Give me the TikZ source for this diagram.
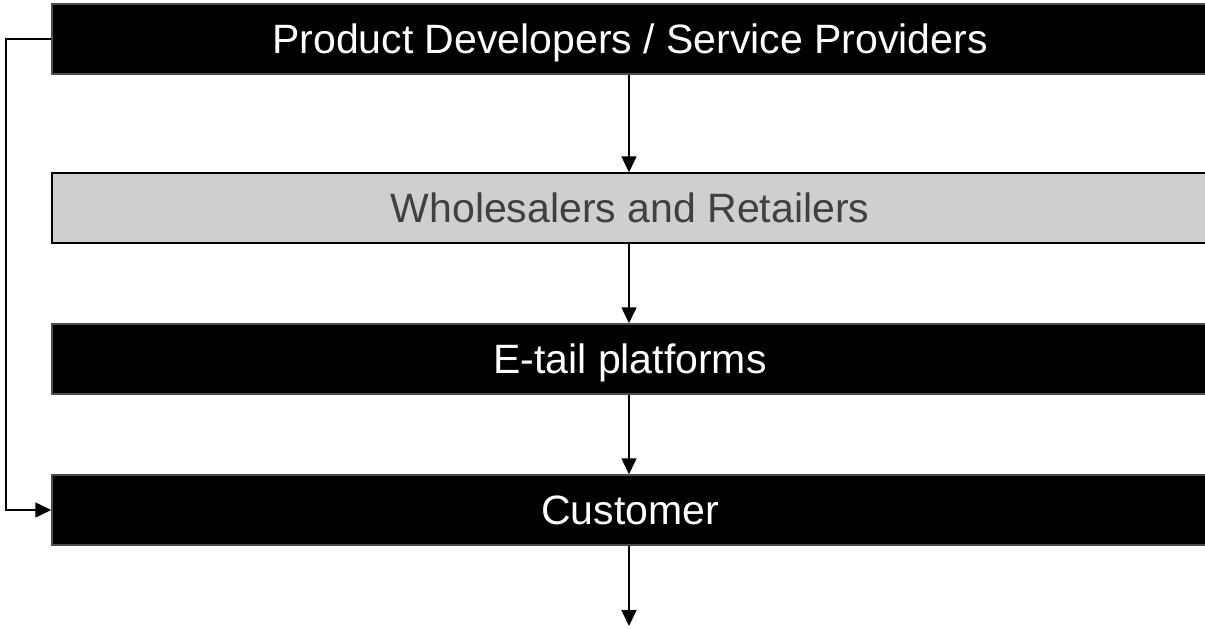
\documentclass[tikz,border=0pt]{standalone}
\usepackage{fontspec}
\setmainfont{Liberation Sans}
\usetikzlibrary{arrows.meta}
\begin{document}
\begin{tikzpicture}[x=1pt,y=-1pt,
  band/.style={minimum width=1156pt,minimum height=70pt,inner sep=0pt,
    font=\fontsize{41}{47}\selectfont,text height=29.5pt,text depth=0pt,anchor=center},
  darkband/.style={band,fill=black,draw=black!70,line width=1.5pt,text=white},
  lightband/.style={band,fill=black!19,draw=black,line width=1.5pt,text=black!75},
  flow/.style={line width=1.6pt,-{Triangle[length=16pt,width=15pt]}}]
\useasboundingbox (0,0) rectangle (1205,629);
\clip (0,0) rectangle (1205,629);
\node[darkband] (prod) at (630,39) {Product Developers / Service Providers};
\node[lightband] (whole) at (630,208) {Wholesalers and Retailers};
\node[darkband] (etail) at (630,359) {E-tail platforms};
\node[darkband] (cust) at (630,510) {Customer};
\coordinate (out) at (629,626);
\draw[flow] (prod.south -| out) -- (whole.north -| out);
\draw[flow] (whole.south -| out) -- (etail.north -| out);
\draw[flow] (etail.south -| out) -- (cust.north -| out);
\draw[flow] (cust.south -| out) -- (out);
\draw[flow] (prod.west) -- (6,39) -- (6,510) -- (cust.west);
\end{tikzpicture}
\end{document}
